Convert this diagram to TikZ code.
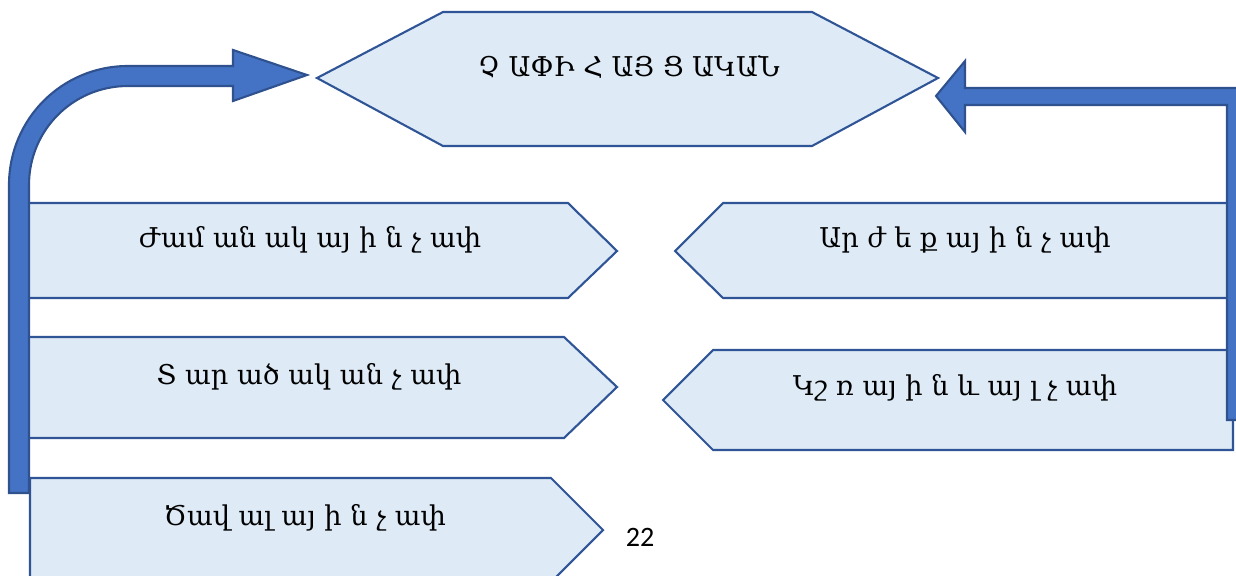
\documentclass[tikz,border=0pt]{standalone}
\usepackage{fontspec}
\setmainfont{DejaVu Serif}
\newfontfamily\pagefont{Carlito}
\definecolor{boxfill}{HTML}{DEEBF7}
\definecolor{boxline}{HTML}{2F5597}
\definecolor{arrowfill}{HTML}{4472C4}
\definecolor{arrowline}{HTML}{2F528F}
\tikzstyle{txt} = [text centered, inner sep=0pt]
\tikzstyle{blockshape} = [fill=boxfill, draw=boxline, line width=1.2pt, line join=miter]
\tikzstyle{bigarrow} = [fill=arrowfill, draw=arrowline, line width=1.2pt]

\begin{document}
\begin{tikzpicture}[x=0.02cm, y=-0.02cm,
font=\fontsize{15.5}{18}\selectfont,
]
\useasboundingbox (0,0) rectangle (1236,575);
\clip (0,0) rectangle (1236,575);

%TOP
\draw[blockshape] (317,78) -- (443,12) -- (812,12) -- (938,78) -- (812,146) -- (443,146) -- cycle;
\draw (629,67)node[txt] (top){Չ ԱՓԻ Հ ԱՅ Ց ԱԿԱՆ};

%LEFT
\draw[blockshape] (26,203) -- (568,203) -- (617,251) -- (568,298) -- (26,298) -- cycle;
\draw (310,240)node[txt] (time){Ժամ ան ակ այ ի ն չ ափ};
\draw[blockshape] (26,337) -- (564,337) -- (617,387) -- (564,438) -- (26,438) -- cycle;
\draw (309,377)node[txt] (space){Տ ար ած ակ ան չ ափ};
\draw[blockshape] (30,478) -- (551,478) -- (603,530) -- (551,582) -- (30,582) -- cycle;
\draw (305,518)node[txt] (volume){Ծավ ալ այ ի ն չ ափ};

%RIGHT
\draw[blockshape] (1240,203) -- (723,203) -- (675,251) -- (723,298) -- (1240,298);
\draw (965,240)node[txt] (value){Ար ժ ե ք այ ի ն չ ափ};
\draw[blockshape] (1233,350) -- (713,350) -- (663,400) -- (713,450) -- (1233,450) -- cycle;
\draw (955,388)node[txt] (weight){Կշ ռ այ ի ն և այ լ չ ափ};

%arrows
\draw[bigarrow] (9,493) -- (9,185) .. controls (9,119) and (62,66) .. (128,66) -- (233,66)
 -- (233,50) -- (307,75) -- (233,101) -- (233,86) -- (128,86)
 .. controls (73,86) and (29,130) .. (29,185) -- (29,493) -- cycle;
\draw[bigarrow] (1245,88) -- (965,88) -- (965,61) -- (936,96) -- (965,132) -- (965,105)
 -- (1227,105) -- (1227,420) -- (1245,420);

\draw (640,537)node[txt] (page){\pagefont\fontsize{16}{18}\selectfont 22};

\end{tikzpicture}
\end{document}
